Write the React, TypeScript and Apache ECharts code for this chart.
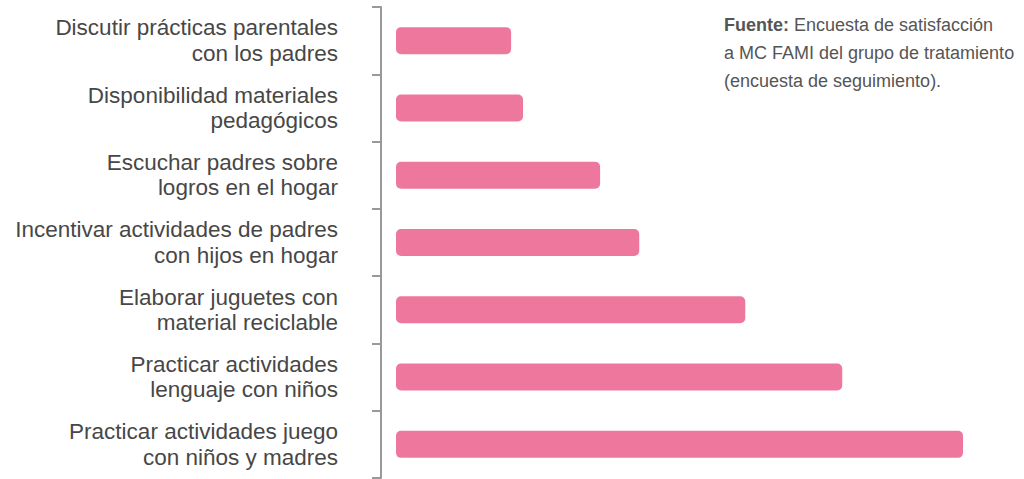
import React, { useEffect, useRef } from "react";
import * as echarts from "echarts";

const categories = [
  "Discutir prácticas parentales\ncon los padres",
  "Disponibilidad materiales\npedagógicos",
  "Escuchar padres sobre\nlogros en el hogar",
  "Incentivar actividades de padres\ncon hijos en hogar",
  "Elaborar juguetes con\nmaterial reciclable",
  "Practicar actividades\nlenguaje con niños",
  "Practicar actividades juego\ncon niños y madres",
];

const values = [20.3, 22.4, 36.0, 42.9, 61.6, 78.7, 100];

const sourceBold = "Fuente:";
const sourceLines = [
  " Encuesta de satisfacción",
  "a MC FAMI del grupo de tratamiento",
  "(encuesta de seguimiento).",
];

export default function App() {
  const ref = useRef<HTMLDivElement>(null);
  useEffect(() => {
    if (!ref.current) return;
    const chart = echarts.init(ref.current, null, { renderer: "svg" });
    const font = "'Liberation Sans', Arial, Helvetica, sans-serif";
    chart.setOption({
      animation: false,
      backgroundColor: "#ffffff",
      grid: { left: 396, right: 61, top: 7, bottom: 1, containLabel: false },
      xAxis: {
        type: "value",
        min: 0,
        max: 100,
        show: false,
      },
      yAxis: {
        type: "category",
        data: categories,
        inverse: true,
        offset: 15,
        axisLine: { show: true, onZero: false, lineStyle: { color: "#999999", width: 2 } },
        axisTick: { show: true, length: 9, lineStyle: { color: "#999999", width: 2 } },
        axisLabel: {
          margin: 43,
          fontSize: 22.5,
          lineHeight: 25.5,
          color: "#474747",
          fontFamily: font,
          align: "right",
          padding: [6, 0, 0, 0],
        },
        splitLine: { show: false },
      },
      series: [
        {
          type: "bar",
          data: values,
          barWidth: 27,
          itemStyle: { color: "#EE789D", borderRadius: 5 },
          silent: true,
        },
      ],
      graphic: [
        {
          type: "text",
          left: 724,
          top: 16,
          style: {
            text:
              "{b|" + sourceBold + "}{n|" + sourceLines[0] + "}\n{n|" + sourceLines[1] + "}\n{n|" + sourceLines[2] + "}",
            rich: {
              b: { fontSize: 18, fontWeight: "bold", fill: "#555555", fontFamily: font, lineHeight: 28 },
              n: { fontSize: 18, fill: "#555555", fontFamily: font, lineHeight: 28 },
            },
          },
        },
      ],
    });
    return () => chart.dispose();
  }, []);
  return <div ref={ref} style={{ width: 1024, height: 479, position: "absolute", left: 0, top: 0 }} />;
}
